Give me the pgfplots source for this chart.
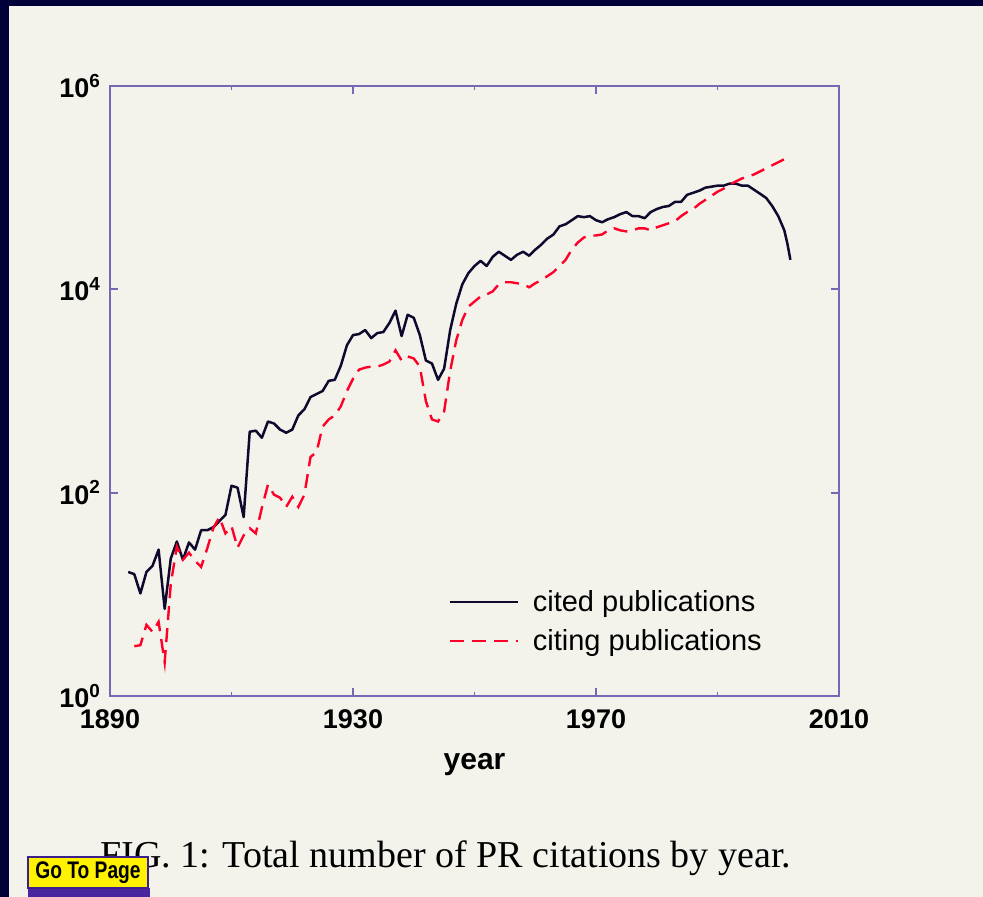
\documentclass[border=0pt]{standalone}
\usepackage{pgfplots}
\pgfplotsset{compat=1.18}
\usepackage{fontspec}
\newfontfamily\helv{Liberation Sans}
\newfontfamily\capserif{Liberation Serif}
\definecolor{page}{RGB}{243,243,236}
\definecolor{navy}{RGB}{0,0,56}
\definecolor{axiscol}{RGB}{118,104,180}
\definecolor{citedcol}{RGB}{15,10,45}
\definecolor{citingcol}{RGB}{255,0,40}
\definecolor{btnborder}{RGB}{60,30,140}
\definecolor{btnshadow}{RGB}{55,15,150}

\pgfplotstableread{
year value
1893 16.6
1894 15.8
1895 10.2
1896 16.6
1897 19.1
1898 27.5
1899 7.2
1900 22.4
1901 33.1
1902 21.9
1903 32.4
1904 27.5
1905 42.7
1906 42.7
1907 45.7
1908 52.5
1909 60.3
1910 117
1911 112
1912 57.5
1913 398
1914 407
1915 347
1916 501
1917 479
1918 417
1919 389
1920 417
1921 575
1922 661
1923 871
1924 933
1925 1000
1926 1259
1927 1288
1928 1778
1929 2818
1930 3548
1931 3631
1932 3981
1933 3311
1934 3715
1935 3802
1936 4677
1937 6166
1938 3467
1939 5623
1940 5248
1941 3548
1942 1995
1943 1862
1944 1288
1945 1660
1946 3981
1947 7244
1948 11220
1949 14450
1950 16980
1951 19050
1952 16980
1953 20890
1954 23440
1955 21380
1956 19500
1957 21880
1958 23440
1959 21380
1960 24550
1961 27540
1962 31620
1963 34670
1964 41690
1965 43650
1966 47860
1967 52480
1968 51290
1969 52480
1970 47860
1971 45710
1972 48980
1973 51290
1974 54950
1975 57540
1976 52480
1977 52480
1978 50120
1979 57540
1980 61660
1981 64570
1982 66070
1983 72440
1984 72440
1985 85110
1986 89130
1987 93330
1988 100000
1989 102300
1990 104700
1991 104700
1992 109600
1993 109600
1994 104700
1995 104700
1996 95500
1997 87100
1998 79430
1999 66070
2000 52480
2001 38020
2001.5 28180
2002 19500
}\cited

\pgfplotstableread{
year value
1894 3.09
1895 3.16
1896 5.01
1897 4.27
1898 5.37
1899 2.14
1900 12.6
1901 29.5
1902 21.9
1903 25.7
1904 21.4
1905 18.6
1906 28.2
1907 44.7
1908 57.5
1909 39.8
1910 46.8
1911 28.8
1912 38.0
1913 44.7
1914 39.8
1915 70.8
1916 120
1917 95.5
1918 89.1
1919 72.4
1920 91.2
1921 72.4
1922 95.5
1923 224
1924 251
1925 447
1926 525
1927 575
1928 708
1929 1000
1930 1318
1931 1622
1932 1698
1933 1738
1934 1738
1935 1820
1936 1950
1937 2512
1938 1995
1939 2188
1940 2089
1941 1738
1942 794
1943 525
1944 501
1945 631
1946 1585
1947 3162
1948 5012
1949 6761
1950 7586
1951 8511
1952 8913
1953 9550
1954 11220
1955 11750
1956 11750
1957 11480
1958 11220
1959 10470
1960 11480
1961 12300
1962 13490
1963 14790
1964 16980
1965 19500
1966 24550
1967 28840
1968 32360
1969 33880
1970 33880
1971 34670
1972 38020
1973 39810
1974 38020
1975 37150
1976 38020
1977 39810
1978 39810
1979 38020
1980 40740
1981 42660
1982 44670
1983 46770
1984 52480
1985 57540
1986 61660
1987 69180
1988 75860
1989 83180
1990 91200
1991 97720
1992 107200
1993 114800
1994 123000
1995 128800
1996 134900
1997 144500
1998 154900
1999 166000
2000 177800
2001 190500
2002 199500
}\citing

\begin{document}
\begin{tikzpicture}
\fill[page] (0pt,0pt) rectangle (491.5pt,-448.5pt);
\fill[navy] (0pt,0pt) rectangle (491.5pt,-3pt);
\fill[navy] (0pt,0pt) rectangle (4.5pt,-448.5pt);
\path[use as bounding box] (0pt,0pt) rectangle (491.5pt,-448.5pt);
\begin{axis}[
  at={(55pt,-348pt)}, anchor=south west,
  scale only axis, width=364.5pt, height=305pt,
  xmin=1890, xmax=2010,
  ymode=log, log basis y=10, ymin=1, ymax=1000000,
  xtick={1890,1930,1970,2010},
  xticklabels={1890,1930,1970,2010},
  minor xtick={1910,1950,1990},
  ytick={1,100,10000,1000000},
  yticklabels={10\textsuperscript{0},10\textsuperscript{2},10\textsuperscript{4},10\textsuperscript{6}},
  yminorticks=false,
  tick align=inside,
  major tick length=4pt, minor tick length=2pt,
  axis line style={axiscol, line width=1pt},
  every tick/.style={axiscol, line width=0.9pt},
  ticklabel style={font=\helv\bfseries\fontsize{13.5}{16}\selectfont, text=black},
  xticklabel style={yshift=-3.5pt},
  yticklabel style={xshift=-1pt},
  xlabel={year},
  xlabel style={font=\helv\bfseries\fontsize{15}{18}\selectfont, yshift=-5pt},
  legend style={draw=none, fill=none, at={(0.4636,0.122)}, anchor=west,
    font=\helv\fontsize{14.5}{16}\selectfont, row sep=3.5pt, inner sep=0pt,
    /tikz/every odd column/.append style={column sep=5pt}},
  legend cell align=left,
  legend image code/.code={\draw[#1] (0pt,0pt) -- (34pt,0pt);},
]
\addplot[citedcol, line width=1.25pt, line join=round] table[x=year, y=value] {\cited};
\addlegendentry{cited publications}
\addplot[citingcol, line width=1.2pt, dash pattern=on 7pt off 4pt] table[x=year, y=value] {\citing};
\addlegendentry{citing publications}
\end{axis}
\node[anchor=base west, inner sep=0pt, font=\capserif\fontsize{19}{22}\selectfont] at (50pt,-433.5pt) {FIG. 1: Total number of PR citations by year.};
\fill[btnshadow, opacity=0.9] (14pt,-444pt) rectangle (75pt,-448.5pt);
\draw[btnborder, line width=1pt, fill=yellow] (14pt,-428.5pt) rectangle (74pt,-444pt);
\node[inner sep=0pt, font=\helv\bfseries\fontsize{12}{14}\selectfont] at (44pt,-436.3pt) {\scalebox{0.8}[1]{Go To Page}};
\end{tikzpicture}
\end{document}
